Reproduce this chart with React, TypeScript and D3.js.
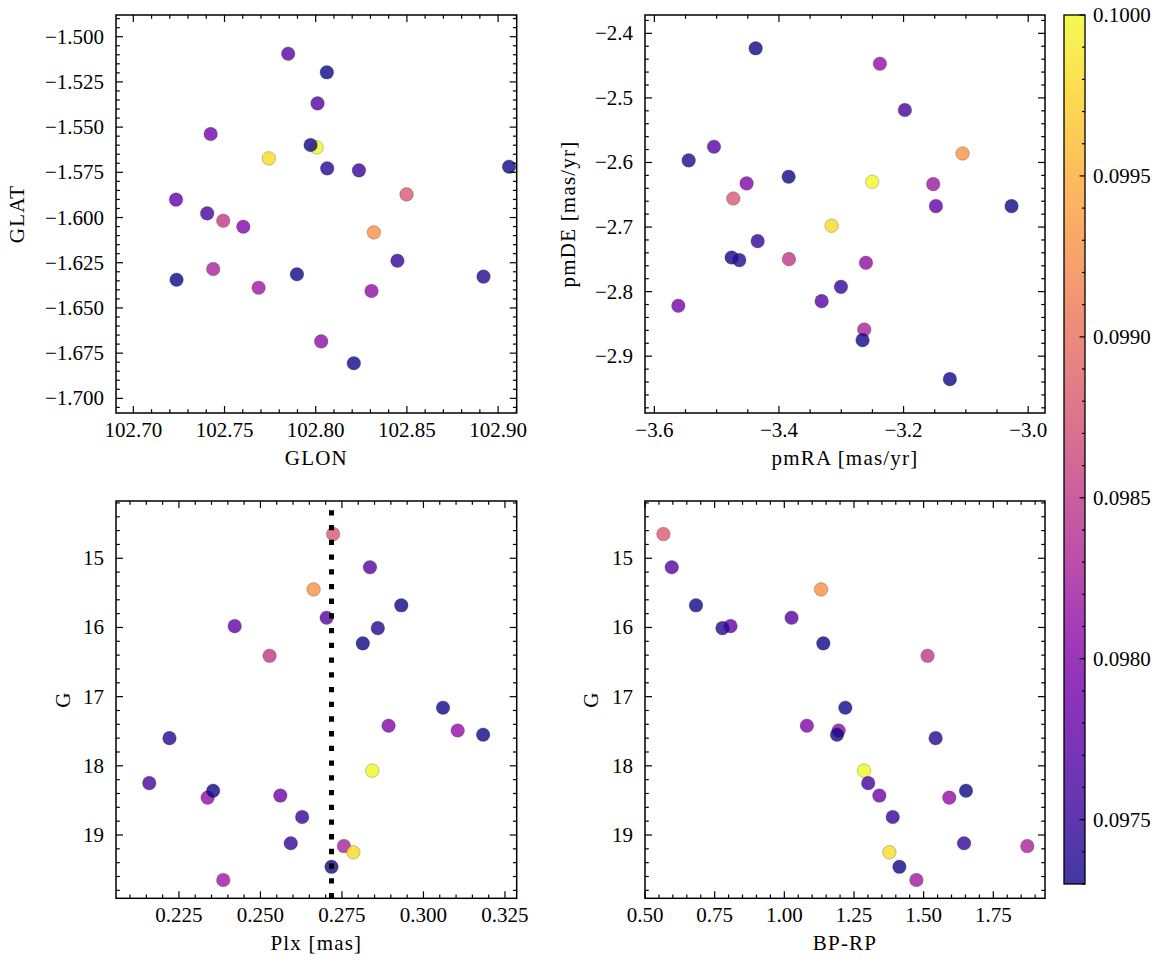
import React from 'react';
import * as d3 from 'd3';

// ---- star data (one entry per star) ----
const G = [14.65, 15.13, 15.68, 15.98, 16.01, 15.86, 15.45, 16.23, 16.41, 17.16, 17.42, 17.49, 17.55, 17.60, 18.07, 18.25, 18.43, 18.46, 18.36, 18.74, 19.12, 19.16, 19.25, 19.46, 19.65];
const BPRP = [0.566, 0.596, 0.683, 0.807, 0.778, 1.026, 1.132, 1.140, 1.514, 1.219, 1.081, 1.195, 1.189, 1.543, 1.286, 1.301, 1.341, 1.592, 1.652, 1.389, 1.645, 1.872, 1.377, 1.413, 1.474];
const PLX = [0.2723, 0.2836, 0.2932, 0.2421, 0.2860, 0.2703, 0.2663, 0.2814, 0.2528, 0.3060, 0.2893, 0.3105, 0.3183, 0.2221, 0.2843, 0.2159, 0.2561, 0.2338, 0.2355, 0.2628, 0.2593, 0.2756, 0.2785, 0.2718, 0.2386];
const GLON = [102.8498, 102.8010, 102.8061, 102.7234, 102.8063, 102.7849, 102.8319, 102.9060, 102.7493, 102.7237, 102.7603, 102.8030, 102.7897, 102.8920, 102.8005, 102.7405, 102.7424, 102.8306, 102.8209, 102.8448, 102.8237, 102.7438, 102.7743, 102.7972, 102.7687];
const GLAT = [-1.5872, -1.5369, -1.5197, -1.5901, -1.5728, -1.5094, -1.6082, -1.5719, -1.6018, -1.6344, -1.6051, -1.6685, -1.6314, -1.6327, -1.5612, -1.5977, -1.5538, -1.6406, -1.6806, -1.6239, -1.5739, -1.6285, -1.5673, -1.5599, -1.6388];
const PMRA = [-3.4733, -3.5043, -3.4374, -3.1481, -3.5449, -3.3315, -3.1053, -3.3845, -3.3840, -3.0267, -3.4519, -3.2604, -3.4759, -3.4636, -3.2503, -3.1979, -3.5615, -3.2380, -3.1257, -3.4342, -3.3005, -3.2631, -3.3155, -3.2658, -3.1524];
const PMDE = [-2.6557, -2.5756, -2.4232, -2.6676, -2.5968, -2.8148, -2.5860, -2.6221, -2.7497, -2.6676, -2.6324, -2.7554, -2.7471, -2.7512, -2.6299, -2.5188, -2.8220, -2.4470, -2.9356, -2.7218, -2.7926, -2.8587, -2.6980, -2.8752, -2.6335];
const COLOR = [0.0988, 0.0977, 0.0973, 0.0978, 0.0974, 0.0977, 0.0993, 0.0973, 0.0985, 0.0973, 0.0980, 0.0981, 0.0973, 0.0974, 0.1000, 0.0976, 0.0979, 0.0981, 0.0973, 0.0975, 0.0975, 0.0983, 0.0998, 0.0973, 0.0982];

const PLX_LINE = 0.2718;
const C_MIN = 0.0973;
const C_MAX = 0.1;

// ---- tick labels ----
const GLON_TICKS = [102.70, 102.75, 102.80, 102.85, 102.90];
const GLAT_TICKS = [-1.500, -1.525, -1.550, -1.575, -1.600, -1.625, -1.650, -1.675, -1.700];
const PMRA_TICKS = [-3.6, -3.4, -3.2, -3.0];
const PMDE_TICKS = [-2.4, -2.5, -2.6, -2.7, -2.8, -2.9];
const PLX_TICKS = [0.225, 0.250, 0.275, 0.300, 0.325];
const G_TICKS = [15, 16, 17, 18, 19];
const BPRP_TICKS = [0.50, 0.75, 1.00, 1.25, 1.50, 1.75];
const CBAR_TICKS = [0.0975, 0.0980, 0.0985, 0.0990, 0.0995, 0.1000];

const FONT = "'Liberation Serif', 'DejaVu Serif', serif";
const FS = 21;

const color = d3.scaleSequential(d3.interpolatePlasma).domain([C_MIN, C_MAX]);

function minors(domain: number[], step: number, majors: number[]) {
  const lo = Math.min(domain[0], domain[1]);
  const hi = Math.max(domain[0], domain[1]);
  const out: number[] = [];
  for (let k = Math.ceil(lo / step - 1e-9); k <= Math.floor(hi / step + 1e-9); k++) {
    const v = k * step;
    if (!majors.some((m) => Math.abs(m - v) < step * 0.01)) out.push(v);
  }
  return out;
}

const fmt = (d: number, p: number) => {
  const s = d.toFixed(p);
  return s.startsWith('-') ? '\u2212' + s.slice(1) : s;
};

type PanelProps = {
  box: { x0: number; x1: number; y0: number; y1: number };
  xDomain: number[];
  yDomain: number[];
  xTicks: number[];
  yTicks: number[];
  xMinor: number;
  yMinor: number;
  xPrec: number;
  yPrec: number;
  xLabel: string;
  yLabel: string;
  yLabelX: number;
  xs: number[];
  ys: number[];
  vline?: number;
};

function Panel(p: PanelProps) {
  const { box } = p;
  const x = d3.scaleLinear().domain(p.xDomain).range([box.x0, box.x1]);
  const y = d3.scaleLinear().domain(p.yDomain).range([box.y1, box.y0]);
  const xm = minors(p.xDomain, p.xMinor, p.xTicks);
  const ym = minors(p.yDomain, p.yMinor, p.yTicks);
  const MJ = 7, MN = 3.8;
  const clipId = `clip-${Math.round(box.x0)}-${Math.round(box.y0)}`;
  return (
    <g>
      <defs>
        <clipPath id={clipId}>
          <rect x={box.x0} y={box.y0} width={box.x1 - box.x0} height={box.y1 - box.y0} />
        </clipPath>
      </defs>
      <g clipPath={`url(#${clipId})`}>
        {p.xs.map((xv, i) => (
          <circle
            key={i}
            cx={x(xv)}
            cy={y(p.ys[i])}
            r={6.8}
            fill={color(COLOR[i])}
            fillOpacity={0.8}
            stroke="rgba(30,30,30,0.35)"
            strokeWidth={0.7}
          />
        ))}
        {p.vline !== undefined && (
          <line
            x1={x(p.vline)}
            x2={x(p.vline)}
            y1={box.y1}
            y2={box.y0}
            stroke="#000"
            strokeWidth={5}
            strokeDasharray="5.3 9.42"
          />
        )}
      </g>
      {/* ticks */}
      <g stroke="#000" strokeWidth={1.2}>
        {p.xTicks.map((t) => (
          <g key={'xt' + t}>
            <line x1={x(t)} x2={x(t)} y1={box.y1} y2={box.y1 - MJ} />
            <line x1={x(t)} x2={x(t)} y1={box.y0} y2={box.y0 + MJ} />
          </g>
        ))}
        {xm.map((t) => (
          <g key={'xm' + t}>
            <line x1={x(t)} x2={x(t)} y1={box.y1} y2={box.y1 - MN} />
            <line x1={x(t)} x2={x(t)} y1={box.y0} y2={box.y0 + MN} />
          </g>
        ))}
        {p.yTicks.map((t) => (
          <g key={'yt' + t}>
            <line y1={y(t)} y2={y(t)} x1={box.x0} x2={box.x0 + MJ} />
            <line y1={y(t)} y2={y(t)} x1={box.x1} x2={box.x1 - MJ} />
          </g>
        ))}
        {ym.map((t) => (
          <g key={'ym' + t}>
            <line y1={y(t)} y2={y(t)} x1={box.x0} x2={box.x0 + MN} />
            <line y1={y(t)} y2={y(t)} x1={box.x1} x2={box.x1 - MN} />
          </g>
        ))}
      </g>
      <rect
        x={box.x0}
        y={box.y0}
        width={box.x1 - box.x0}
        height={box.y1 - box.y0}
        fill="none"
        stroke="#000"
        strokeWidth={1.5}
      />
      <g fontFamily={FONT} fontSize={FS} fill="#000">
        {p.xTicks.map((t) => (
          <text key={'xl' + t} x={x(t)} y={box.y1 + 24} textAnchor="middle">
            {fmt(t, p.xPrec)}
          </text>
        ))}
        {p.yTicks.map((t) => (
          <text key={'yl' + t} x={box.x0 - 12} y={y(t) + 7} textAnchor="end">
            {fmt(t, p.yPrec)}
          </text>
        ))}
        <text x={(box.x0 + box.x1) / 2} y={box.y1 + 52} textAnchor="middle" letterSpacing={1.2}>
          {p.xLabel}
        </text>
        <text
          transform={`translate(${p.yLabelX},${(box.y0 + box.y1) / 2}) rotate(-90)`}
          textAnchor="middle"
          letterSpacing={1.2}
        >
          {p.yLabel}
        </text>
      </g>
    </g>
  );
}

function Colorbar() {
  const x0 = 1064, x1 = 1085, y0 = 15, y1 = 884;
  const s = d3.scaleLinear().domain([C_MIN, C_MAX]).range([y1, y0]);
  const stops = d3.range(0, 1.0001, 0.02);
  const mn = minors([C_MIN, C_MAX], 0.0001, CBAR_TICKS);
  return (
    <g>
      <defs>
        <linearGradient id="cbar" x1="0" y1="1" x2="0" y2="0">
          {stops.map((t) => (
            <stop key={t} offset={t} stopColor={d3.interpolatePlasma(t)} />
          ))}
        </linearGradient>
      </defs>
      <rect x={x0} y={y0} width={x1 - x0} height={y1 - y0} fill="url(#cbar)" opacity={0.8} />
      <g stroke="#000" strokeWidth={1.2}>
        {CBAR_TICKS.map((t) => (
          <line key={'c' + t} x1={x1} x2={x1 - 5.5} y1={s(t)} y2={s(t)} />
        ))}
        {mn.map((t) => (
          <line key={'cm' + t} x1={x1} x2={x1 - 3} y1={s(t)} y2={s(t)} />
        ))}
      </g>
      <rect x={x0} y={y0} width={x1 - x0} height={y1 - y0} fill="none" stroke="#000" strokeWidth={1.3} />
      <g fontFamily={FONT} fontSize={FS} fill="#000">
        {CBAR_TICKS.map((t) => (
          <text key={'cl' + t} x={x1 + 8} y={s(t) + 7} textAnchor="start">
            {t.toFixed(4)}
          </text>
        ))}
      </g>
    </g>
  );
}

export default function App() {
  const top = { y0: 15, y1: 413 };
  const bot = { y0: 501, y1: 898.3 };
  const left = { x0: 116, x1: 516.7 };
  const right = { x0: 645, x1: 1045 };
  return (
    <svg
      width={1166}
      height={965}
      style={{ position: 'absolute', left: 0, top: 0, background: '#fff' }}
    >
      <rect x={0} y={0} width={1166} height={965} fill="#fff" />
      <Panel
        box={{ ...left, ...top }}
        xDomain={[102.6905, 102.9102]}
        yDomain={[-1.7081, -1.488]}
        xTicks={GLON_TICKS}
        yTicks={GLAT_TICKS}
        xMinor={0.01}
        yMinor={0.005}
        xPrec={2}
        yPrec={3}
        xLabel="GLON"
        yLabel="GLAT"
        yLabelX={24}
        xs={GLON}
        ys={GLAT}
      />
      <Panel
        box={{ ...right, ...top }}
        xDomain={[-3.615, -2.973]}
        yDomain={[-2.988, -2.3716]}
        xTicks={PMRA_TICKS}
        yTicks={PMDE_TICKS}
        xMinor={0.05}
        yMinor={0.02}
        xPrec={1}
        yPrec={1}
        xLabel="pmRA [mas/yr]"
        yLabel="pmDE [mas/yr]"
        yLabelX={575}
        xs={PMRA}
        ys={PMDE}
      />
      <Panel
        box={{ ...left, ...bot }}
        xDomain={[0.2057, 0.3286]}
        yDomain={[19.915, 14.172]}
        xTicks={PLX_TICKS}
        yTicks={G_TICKS}
        xMinor={0.005}
        yMinor={0.2}
        xPrec={3}
        yPrec={0}
        xLabel="Plx [mas]"
        yLabel="G"
        yLabelX={70}
        xs={PLX}
        ys={G}
        vline={PLX_LINE}
      />
      <Panel
        box={{ ...right, ...bot }}
        xDomain={[0.5, 1.9355]}
        yDomain={[19.915, 14.172]}
        xTicks={BPRP_TICKS}
        yTicks={G_TICKS}
        xMinor={0.05}
        yMinor={0.2}
        xPrec={2}
        yPrec={0}
        xLabel="BP-RP"
        yLabel="G"
        yLabelX={598}
        xs={BPRP}
        ys={G}
      />
      <Colorbar />
    </svg>
  );
}
